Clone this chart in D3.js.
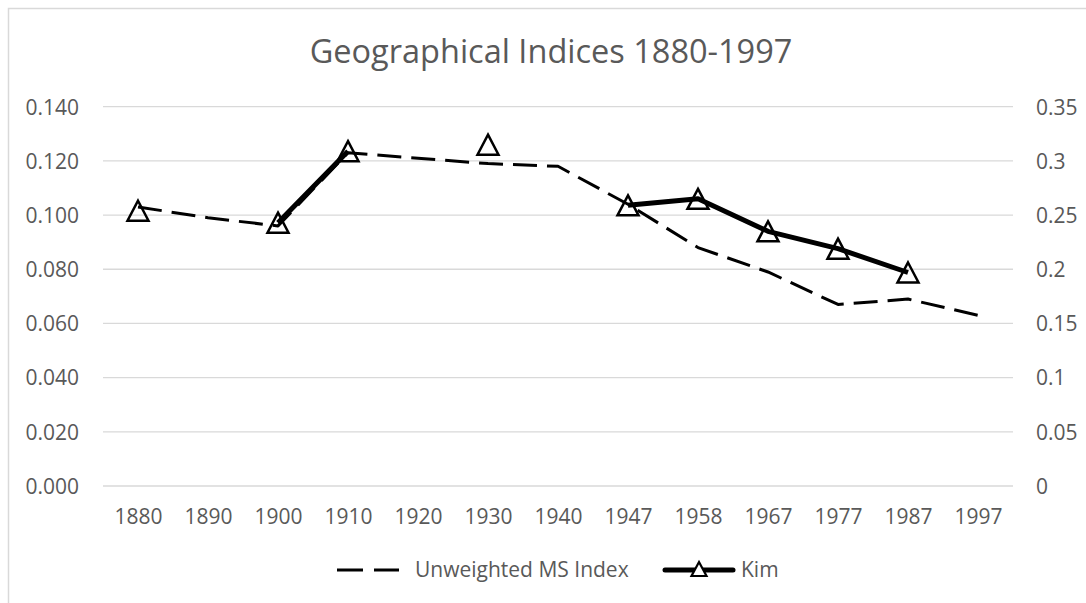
<!DOCTYPE html>
<html>
<head>
<meta charset="utf-8">
<script src="https://cdn.jsdelivr.net/npm/d3@7"></script>
<style>
  html, body { margin: 0; padding: 0; background: #fff; }
  svg { display: block; }
  text { font-family: "Open Sans", sans-serif; fill: #595959; }
</style>
</head>
<body>
<svg id="chart" width="1086" height="603"></svg>
<script>
const years = ["1880","1890","1900","1910","1920","1930","1940","1947","1958","1967","1977","1987","1997"];
const msIndex = [0.103, 0.099, 0.096, 0.123, 0.121, 0.119, 0.118, 0.104, 0.088, 0.079, 0.067, 0.069, 0.063];
const kim = [0.254, null, 0.243, 0.309, null, 0.315, null, 0.259, 0.265, 0.235, 0.219, 0.197, null];
const leftTicks = [0, 0.02, 0.04, 0.06, 0.08, 0.10, 0.12, 0.14];
const rightTicks = [0, 0.05, 0.1, 0.15, 0.2, 0.25, 0.3, 0.35];
const title = "Geographical Indices 1880-1997";
const seriesNames = ["Unweighted MS Index", "Kim"];

const svg = d3.select("#chart");
const W = 1086, H = 603;

// chart border (extends beyond the picture on right/bottom)
svg.append("rect").attr("x", 8.5).attr("y", 8.5).attr("width", W + 20).attr("height", H + 20)
  .attr("fill", "#fff").attr("stroke", "#d9d9d9").attr("stroke-width", 1.5);

const plot = { left: 103, right: 1013, top: 106.7, bottom: 486 };

const x = d3.scalePoint().domain(years).range([plot.left, plot.right]).padding(0.5);
const yL = d3.scaleLinear().domain([0, 0.14]).range([plot.bottom, plot.top]);
const yR = d3.scaleLinear().domain([0, 0.35]).range([plot.bottom, plot.top]);

// gridlines
svg.append("g").selectAll("line").data(leftTicks).join("line")
  .attr("x1", plot.left).attr("x2", plot.right)
  .attr("y1", d => yL(d)).attr("y2", d => yL(d))
  .attr("stroke", "#d9d9d9").attr("stroke-width", 1.3);

// left axis labels
const axL = svg.append("g").attr("transform", `translate(${79},0)`)
  .call(d3.axisLeft(yL).tickValues(leftTicks).tickFormat(d3.format(".3f")).tickSize(0).tickPadding(0));
axL.select(".domain").remove();
axL.selectAll("text").attr("font-size", 21).attr("font-family", "Open Sans").attr("fill", "#595959").attr("dy", "0.35em");

// right axis labels
const axR = svg.append("g").attr("transform", `translate(${1036},0)`)
  .call(d3.axisRight(yR).tickValues(rightTicks).tickFormat(d => String(+d.toFixed(2))).tickSize(0).tickPadding(0));
axR.select(".domain").remove();
axR.selectAll("text").attr("font-size", 21).attr("font-family", "Open Sans").attr("fill", "#595959").attr("dy", "0.35em");

// x axis labels
const axX = svg.append("g").attr("transform", `translate(0,${plot.bottom})`)
  .call(d3.axisBottom(x).tickSize(0).tickPadding(0));
axX.select(".domain").remove();
axX.selectAll("text").attr("font-size", 21).attr("font-family", "Open Sans").attr("fill", "#595959")
  .attr("dy", null).attr("y", 38);

// title
svg.append("text").attr("x", 551).attr("y", 63).attr("text-anchor", "middle")
  .attr("font-size", 32.5).text(title);

// dashed series
const lineL = d3.line().x((d, i) => x(years[i])).y(d => yL(d));
svg.append("path").datum(msIndex).attr("d", lineL)
  .attr("fill", "none").attr("stroke", "#000").attr("stroke-width", 3)
  .attr("stroke-dasharray", "24,10").attr("stroke-linejoin", "round");

// Kim series
const lineR = d3.line().defined(d => d != null).x((d, i) => x(years[i])).y(d => yR(d));
svg.append("path").datum(kim).attr("d", lineR)
  .attr("fill", "none").attr("stroke", "#000").attr("stroke-width", 5)
  .attr("stroke-linejoin", "round").attr("stroke-linecap", "butt");

function tri(w, h) {
  return `M0,${-h/2}L${w/2},${h/2}L${-w/2},${h/2}Z`;
}
svg.append("g").selectAll("path").data(kim.map((v, i) => ({v, i})).filter(d => d.v != null)).join("path")
  .attr("transform", d => `translate(${x(years[d.i])},${yR(d.v)})`)
  .attr("d", tri(21, 20))
  .attr("fill", "none").attr("stroke", "#000").attr("stroke-width", 2.5).attr("stroke-linejoin", "miter");

// legend
const lg = svg.append("g");
lg.append("line").attr("x1", 337).attr("x2", 399).attr("y1", 570).attr("y2", 570)
  .attr("stroke", "#000").attr("stroke-width", 3).attr("stroke-dasharray", "26,11");
lg.append("text").attr("x", 415).attr("y", 570).attr("dy", "0.35em").attr("font-size", 21).text(seriesNames[0]);
lg.append("line").attr("x1", 665).attr("x2", 733).attr("y1", 570).attr("y2", 570)
  .attr("stroke", "#000").attr("stroke-width", 5).attr("stroke-linecap", "round");
lg.append("path").attr("transform", "translate(699,569)").attr("d", tri(15, 14))
  .attr("fill", "#fff").attr("stroke", "#000").attr("stroke-width", 2.2);
lg.append("text").attr("x", 741).attr("y", 570).attr("dy", "0.35em").attr("font-size", 21).text(seriesNames[1]);
</script>
</body>
</html>
